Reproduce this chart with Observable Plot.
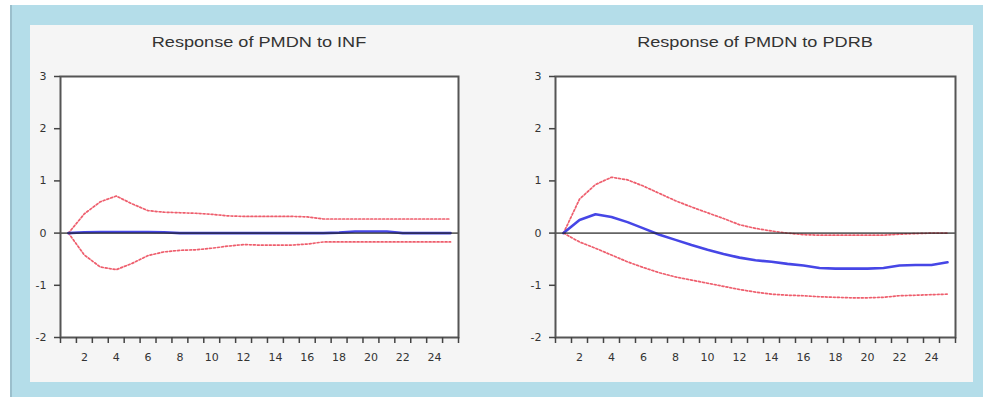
<!DOCTYPE html>
<html><head><meta charset="utf-8">
<script src="https://cdn.jsdelivr.net/npm/d3@7"></script>
<script src="https://cdn.jsdelivr.net/npm/@observablehq/plot@0.6"></script>
<style>
body{margin:0;background:#fff;width:983px;height:399px;overflow:hidden;position:relative;font-family:"Liberation Sans",Arial,sans-serif}
#outer{position:absolute;left:10px;top:5px;width:973px;height:392px;background:#b4dde9;border-left:2px solid #9bbfcc;box-sizing:border-box}
#inner{position:absolute;left:30px;top:25px;width:943px;height:357px;background:#f5f5f5}
.chart{position:absolute;top:66px}
.title{position:absolute;top:33px;font-size:14.5px;line-height:18px;color:#333;text-align:center;transform:scaleX(1.25);white-space:nowrap}
</style></head><body>
<div id="outer"></div><div id="inner"></div>
<div class="title" id="t1" style="left:60px;width:398px"></div>
<div class="title" id="t2" style="left:555px;width:400px"></div>
<div class="chart" id="c1" style="left:10px"></div>
<div class="chart" id="c2" style="left:505px"></div>
<script>
const titles = ["Response of PMDN to INF", "Response of PMDN to PDRB"];
const periods = d3.range(1, 26);
const xTickLabels = [2,4,6,8,10,12,14,16,18,20,22,24];
const xTickMarks = d3.range(0.5, 26, 1);
const yTicks = [-2,-1,0,1,2,3];

const infResponse = [0,0.015,0.02,0.02,0.02,0.02,0.015,0,0,0,0,0,0,0,0,0,0,0.01,0.03,0.03,0.03,0,0,0,0];
const infUpper = [0,0.37,0.6,0.71,0.56,0.43,0.4,0.39,0.38,0.36,0.33,0.32,0.32,0.32,0.32,0.31,0.27,0.27,0.27,0.27,0.27,0.27,0.27,0.27,0.27];
const infLower = [0,-0.42,-0.65,-0.7,-0.58,-0.43,-0.36,-0.33,-0.32,-0.29,-0.25,-0.22,-0.23,-0.23,-0.23,-0.21,-0.17,-0.17,-0.17,-0.17,-0.17,-0.17,-0.17,-0.17,-0.17];

const pdrbResponse = [0,0.25,0.36,0.31,0.21,0.09,-0.03,-0.13,-0.23,-0.32,-0.4,-0.47,-0.52,-0.55,-0.59,-0.62,-0.67,-0.68,-0.68,-0.68,-0.67,-0.62,-0.61,-0.61,-0.56];
const pdrbUpper = [0,0.65,0.93,1.07,1.02,0.9,0.76,0.62,0.5,0.39,0.28,0.16,0.09,0.04,0,-0.03,-0.04,-0.04,-0.04,-0.04,-0.04,-0.02,-0.01,0,0];
const pdrbLower = [0,-0.17,-0.29,-0.42,-0.55,-0.66,-0.76,-0.84,-0.9,-0.96,-1.02,-1.08,-1.13,-1.17,-1.19,-1.2,-1.22,-1.23,-1.24,-1.24,-1.23,-1.2,-1.19,-1.18,-1.17];

function panel(resp, upper, lower, width) {
  const rows = periods.map((p, i) => ({period: p, resp: resp[i], upper: upper[i], lower: lower[i]}));
  const red = {stroke: "#e8283c", strokeWidth: 1.7, strokeDasharray: "2 2", strokeOpacity: 0.75};
  return Plot.plot({
    width, height: 306,
    marginLeft: 50, marginRight: 10, marginTop: 10, marginBottom: 35,
    x: {domain: [0.5, 25.5]},
    y: {domain: [-2, 3]},
    style: {background: "transparent", fontFamily: "DejaVu Sans", fontSize: "11px", color: "#333"},
    marks: [
      Plot.frame({fill: "white"}),
      Plot.line(rows, {x: "period", y: "upper", ...red}),
      Plot.line(rows, {x: "period", y: "lower", ...red}),
      Plot.line(rows, {x: "period", y: "resp", stroke: "#4646e6", strokeWidth: 2.6}),
      Plot.ruleY([0], {stroke: "#222", strokeWidth: 1.6, strokeOpacity: 0.7}),
      Plot.frame({stroke: "#555", strokeWidth: 2}),
      Plot.axisX({ticks: xTickMarks, tickSize: 6, tickFormat: () => "", stroke: "#444", strokeWidth: 1.5, label: null}),
      Plot.axisX({ticks: xTickLabels, tickSize: 0, tickPadding: 16, label: null}),
      Plot.axisY({ticks: yTicks, tickSize: 6, tickPadding: 8, tickFormat: d => String(d), stroke: "#444", strokeWidth: 1.5, label: null})
    ]
  });
}
document.getElementById("t1").textContent = titles[0];
document.getElementById("t2").textContent = titles[1];
document.getElementById("c1").append(panel(infResponse, infUpper, infLower, 458));
document.getElementById("c2").append(panel(pdrbResponse, pdrbUpper, pdrbLower, 460));
</script>
</body></html>
